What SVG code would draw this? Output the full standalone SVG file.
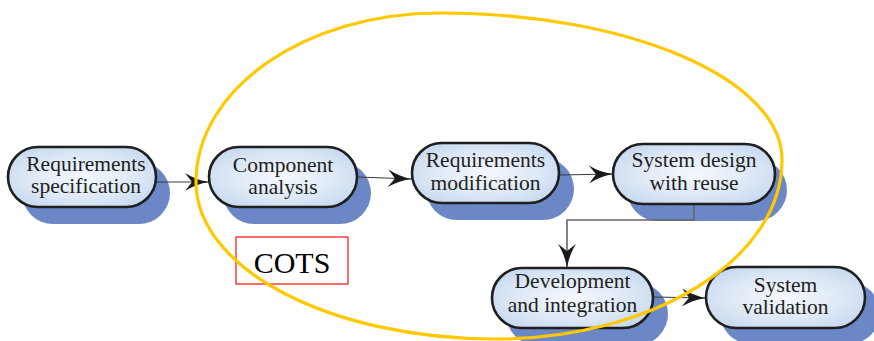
<svg xmlns="http://www.w3.org/2000/svg" width="874" height="341" viewBox="0 0 874 341">
  <defs>
    <radialGradient id="pillFill" cx="50%" cy="50%" r="60%">
      <stop offset="0" stop-color="#f4f8fd"/>
      <stop offset="0.6" stop-color="#dde8f6"/>
      <stop offset="1" stop-color="#c6d8ef"/>
    </radialGradient>
    <marker id="head" markerUnits="userSpaceOnUse" markerWidth="26" markerHeight="20" refX="24" refY="9" orient="auto" overflow="visible">
      <path d="M0,0 Q11,7 24,9 Q11,11 0,18 L7,9 Z" fill="#1a1a1a"/>
    </marker>
  </defs>
  <style>
    .shadow { fill: #6b87c6; }
    .pill { fill: url(#pillFill); stroke: #1f1f1f; stroke-width: 2.6; }
    .label { font-family: "Liberation Serif", "Times New Roman", serif; font-size: 21.5px; fill: #231f20; text-anchor: middle; }
    .link { fill: none; stroke: #3a3a3a; stroke-width: 1.2; marker-end: url(#head); }
    .elbow { fill: none; stroke: #666666; stroke-width: 1.6; marker-end: url(#head); }
  </style>

  <rect width="874" height="341" fill="#ffffff"/>

  <!-- shadows -->
  <g id="shadows">
    <rect class="shadow" x="22" y="162" width="148" height="62" rx="31"/>
    <rect class="shadow" x="223" y="162" width="148" height="62" rx="31"/>
    <rect class="shadow" x="426" y="158" width="148" height="62" rx="31"/>
    <rect class="shadow" x="627" y="159" width="160" height="62" rx="31"/>
    <rect class="shadow" x="506" y="283" width="162" height="62" rx="31"/>
    <rect class="shadow" x="720" y="282" width="160" height="62" rx="31"/>
  </g>

  <!-- connectors -->
  <g id="connectors">
    <line class="link" x1="156" y1="182" x2="209" y2="182"/>
    <line class="link" x1="357" y1="177" x2="412" y2="179"/>
    <line class="link" x1="559" y1="175" x2="613" y2="174"/>
    <polyline class="elbow" points="694,204 694,220 567,220 567,268"/>
    <line class="link" x1="653" y1="297" x2="706" y2="298"/>
  </g>

  <g id="req-spec">
    <rect class="pill" x="8" y="147" width="148" height="60" rx="30"/>
    <text class="label" x="86" y="171">Requirements</text>
    <text class="label" x="86" y="193">specification</text>
  </g>

  <g id="comp-analysis">
    <rect class="pill" x="209" y="147" width="148" height="60" rx="30"/>
    <text class="label" x="283" y="172">Component</text>
    <text class="label" x="283" y="194">analysis</text>
  </g>

  <g id="req-mod">
    <rect class="pill" x="412" y="143" width="147" height="60" rx="30"/>
    <text class="label" x="485.5" y="167">Requirements</text>
    <text class="label" x="485.5" y="190">modification</text>
  </g>

  <g id="sys-design">
    <rect class="pill" x="613" y="144" width="162" height="60" rx="30"/>
    <text class="label" x="694" y="167">System design</text>
    <text class="label" x="694" y="190">with reuse</text>
  </g>

  <g id="dev-int">
    <rect class="pill" x="492" y="268" width="161" height="60" rx="30"/>
    <text class="label" x="572.5" y="288">Development</text>
    <text class="label" x="572.5" y="312">and integration</text>
  </g>

  <g id="sys-val">
    <rect class="pill" x="706" y="267" width="159" height="61" rx="30.5"/>
    <text class="label" x="785.5" y="292">System</text>
    <text class="label" x="785.5" y="314">validation</text>
  </g>

  <g id="cots">
    <rect x="236" y="237" width="112" height="47" fill="none" stroke="#ff2020" stroke-width="1.3"/>
    <text x="292" y="273" font-family="'Liberation Serif', 'Times New Roman', serif" font-size="30" fill="#000000" text-anchor="middle">COTS</text>
  </g>

  <!-- reuse boundary -->
  <path d="M196,182 C196,88.7 305.2,13 440,13 C628.9,13 782,78.8 782,160 C782,258.9 653.5,339 495,339 C329.9,339 196,268.7 196,182 Z" fill="none" stroke="#ffc800" stroke-width="3.2"/>
</svg>
